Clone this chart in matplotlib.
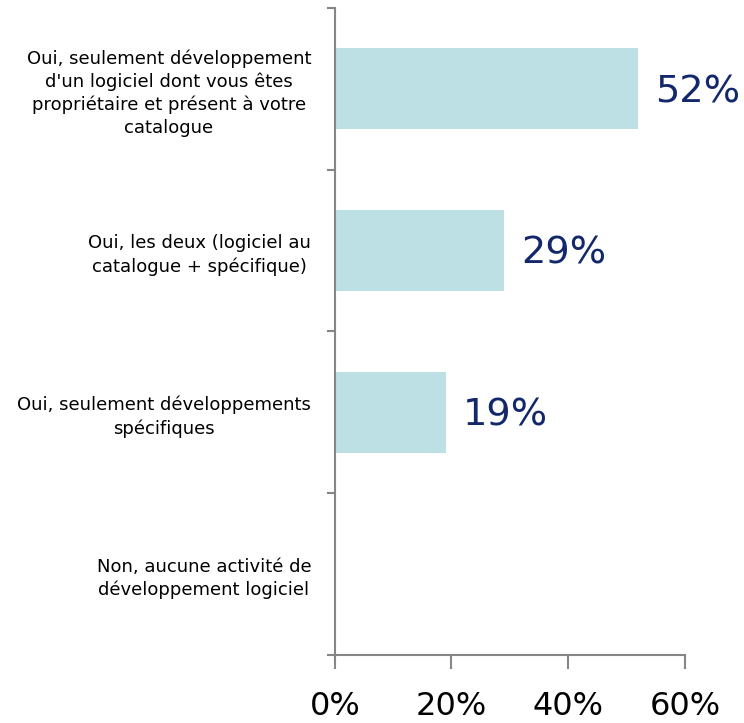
import numpy as np
import matplotlib.pyplot as plt

# Data
categories = [
    "Oui, seulement développement\nd'un logiciel dont vous êtes\npropriétaire et présent à votre\ncatalogue",
    "Oui, les deux (logiciel au\ncatalogue + spécifique)",
    "Oui, seulement développements\nspécifiques",
    "Non, aucune activité de\ndéveloppement logiciel",
]
values = [52, 29, 19, 0]
xticks = [0, 20, 40, 60]

fig = plt.figure(figsize=(7.44, 7.23), dpi=100)
ax = fig.add_axes([0.450, 0.094, 0.4705, 0.895])

pos = np.arange(len(categories))
ax.barh(pos, values, height=0.5, color='#BCE0E3')

# value labels (no label for zero)
for p, v in zip(pos, values):
    if v > 0:
        ax.text(v + 2.9, p + 0.02, f"{v}%", va='center', ha='left',
                fontsize=27.5, color='#12286B')

ax.set_xlim(0, 60)
ax.set_ylim(len(categories) - 0.5, -0.5)

ax.set_xticks(xticks)
ax.set_xticklabels([f"{t}%" for t in xticks], fontsize=23)
ax.tick_params(axis='x', length=10, width=1.5, color='#868686', pad=16)

# boundaries as major ticks, labels on minor ticks
ax.set_yticks(np.arange(len(categories) + 1) - 0.5)
ax.set_yticklabels([])
ax.set_yticks(pos, minor=True)
ax.set_yticklabels(categories, minor=True, fontsize=13, ha='right',
                   multialignment='center', linespacing=1.33)
ax.tick_params(axis='y', which='major', length=6, width=1.5, color='#868686')
ax.tick_params(axis='y', which='minor', length=0, pad=17)

for s in ['top', 'right']:
    ax.spines[s].set_visible(False)
for s in ['left', 'bottom']:
    ax.spines[s].set_color('#868686')
    ax.spines[s].set_linewidth(1.5)

fig.savefig('out.png', dpi=100)
